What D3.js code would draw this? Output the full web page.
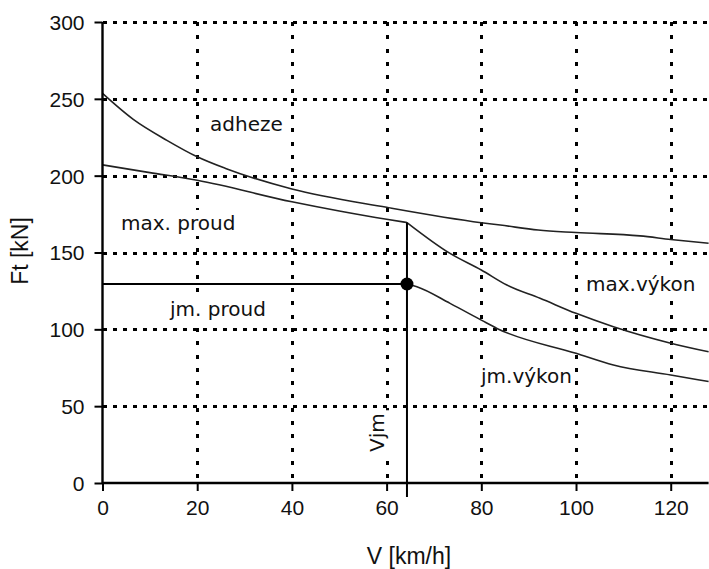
<!DOCTYPE html>
<html>
<head>
<meta charset="utf-8">
<script src="https://cdn.jsdelivr.net/npm/d3@7"></script>
<style>
    body { margin: 0; background: #fff; }
    svg { display: block; }
</style>
</head>
<body>
<div id="chart"></div>
<script>

// axis ticks
var xTicks = [0, 20, 40, 60, 80, 100, 120];
var yTicks = [0, 50, 100, 150, 200, 250, 300];

// adheze (adhesion limit)
var adhezeV = [0, 6.5, 13.6, 20, 26, 40, 60, 80, 84, 92, 100, 113.5, 120, 128];
var adhezeF = [253.5, 236.6, 223, 212.3, 204.7, 191.3, 179.4, 169.4, 167.9, 164.6, 163, 160.8, 158.5, 156];

// max. proud (max current)
var maxProudV = [0, 10, 20, 40, 50, 60, 64.3];
var maxProudF = [207, 202, 197, 183, 177, 171.6, 169.5];

// max.výkon (max power)
var maxVykonV = [64.3, 73.4, 80, 85.4, 92.4, 100, 107.9, 120, 128];
var maxVykonF = [169.5, 149.4, 138.6, 128.8, 120.2, 110.4, 101.7, 91, 85.4];

// jm.výkon (rated power)
var jmVykonV = [64.3, 66.4, 73.4, 80, 83.3, 100, 107.9, 120, 128];
var jmVykonF = [129.5, 127.7, 116.9, 106, 100.6, 84.4, 76.8, 70.3, 66];

// jm. proud (rated current) and rated speed
var jmProud = 129.5;
var vJm = 64.3;

var width = 709, height = 569;

var x = d3.scaleLinear().domain([0, 128]).range([102.5, 708.6]);
var y = d3.scaleLinear().domain([0, 300]).range([483, 22]);

var svg = d3.select('#chart').append('svg')
            .attr('width', width)
            .attr('height', height)
            .style('font-family', '"Liberation Sans", Arial, sans-serif');

// grid, dotted
var grid = svg.append('g').attr('shape-rendering', 'crispEdges');
for (var i=1; i<yTicks.length; i++)
{
    grid.append('line')
        .attr('x1', x(0)).attr('x2', x(128))
        .attr('y1', Math.round(y(yTicks[i]))).attr('y2', Math.round(y(yTicks[i])))
        .attr('stroke', '#000')
        .attr('stroke-width', 3)
        .attr('stroke-dasharray', '4,6');
}
for (var i=1; i<xTicks.length; i++)
{
    grid.append('line')
        .attr('x1', Math.round(x(xTicks[i]))).attr('x2', Math.round(x(xTicks[i])))
        .attr('y1', y(300)).attr('y2', y(0))
        .attr('stroke', '#000')
        .attr('stroke-width', 3)
        .attr('stroke-dasharray', '4,9.3');
}

// labels with white box under them (they hide the grid)
function label(txt, px, py, rotate)
{
    var g = svg.append('g')
               .attr('transform', 'translate('+px+','+py+')'+(rotate ? ' rotate(-90)' : ''));
    var t = g.append('text')
             .attr('font-family', '"DejaVu Sans", Verdana, sans-serif')
             .attr('font-size', 20)
             .attr('fill', '#111')
             .text(txt);
    var bb = t.node().getBBox();
    g.insert('rect', 'text')
     .attr('x', bb.x-3).attr('y', bb.y-1)
     .attr('width', bb.width+6).attr('height', bb.height+2)
     .attr('fill', '#fff');
    return g;
}

label('adheze', 210, 131);
label('max. proud', 121, 230);
label('jm. proud', 170, 316);
label('max.výkon', 586, 291);
label('jm.výkon', 481, 383);
label('Vjm', 384, 452, true);

// curves
var line = d3.line()
             .x(function(d) { return x(d[0]); })
             .y(function(d) { return y(d[1]); })
             .curve(d3.curveMonotoneX);

function series(vs, fs)
{
    return vs.map(function(v, i) { return [v, fs[i]]; });
}

var curves = [
    series(adhezeV, adhezeF),
    series(maxProudV, maxProudF),
    series(maxVykonV, maxVykonF),
    series(jmVykonV, jmVykonF)
];
for (var i=0; i<curves.length; i++)
{
    svg.append('path')
        .attr('d', line(curves[i]))
        .attr('fill', 'none')
        .attr('stroke', '#222')
        .attr('stroke-width', 1.6);
}

// jm. proud horizontal and Vjm vertical
svg.append('line')
    .attr('x1', x(0)).attr('x2', x(vJm))
    .attr('y1', y(jmProud)).attr('y2', y(jmProud))
    .attr('stroke', '#000')
    .attr('stroke-width', 2);
svg.append('line')
    .attr('x1', x(vJm)).attr('x2', x(vJm))
    .attr('y1', y(maxProudF[maxProudF.length-1])).attr('y2', y(0)+14)
    .attr('stroke', '#000')
    .attr('stroke-width', 2);
svg.append('circle')
    .attr('cx', x(vJm)).attr('cy', y(jmProud))
    .attr('r', 6.5)
    .attr('fill', '#000');

// axes
var xAxis = d3.axisBottom(x).tickValues(xTicks).tickSize(8).tickPadding(9);
var yAxis = d3.axisLeft(y).tickValues(yTicks).tickSize(8).tickPadding(10);

var gx = svg.append('g').attr('transform', 'translate(0,'+y(0)+')').call(xAxis);
var gy = svg.append('g').attr('transform', 'translate('+x(0)+',0)').call(yAxis);

[gx, gy].forEach(function(g)
{
    g.select('.domain').remove();
    g.selectAll('.tick line').attr('stroke', '#000').attr('stroke-width', 2);
    g.selectAll('.tick text')
     .attr('font-family', '"Liberation Sans", Arial, sans-serif')
     .attr('font-size', 21)
     .attr('fill', '#111');
});
gy.selectAll('.tick text').attr('dy', '0.35em');

// axis lines, solid
svg.append('line')
    .attr('x1', x(0)).attr('x2', x(128))
    .attr('y1', y(0)).attr('y2', y(0))
    .attr('stroke', '#000').attr('stroke-width', 2.4);
svg.append('line')
    .attr('x1', x(0)).attr('x2', x(0))
    .attr('y1', y(300)).attr('y2', y(0))
    .attr('stroke', '#000').attr('stroke-width', 2.4);

// axis titles
svg.append('text')
    .attr('x', 409).attr('y', 564)
    .attr('text-anchor', 'middle')
    .attr('font-size', 23)
    .attr('fill', '#111')
    .text('V [km/h]');
svg.append('text')
    .attr('transform', 'translate(28,251) rotate(-90)')
    .attr('text-anchor', 'middle')
    .attr('font-size', 23)
    .attr('fill', '#111')
    .text('Ft [kN]');

</script>
</body>
</html>
